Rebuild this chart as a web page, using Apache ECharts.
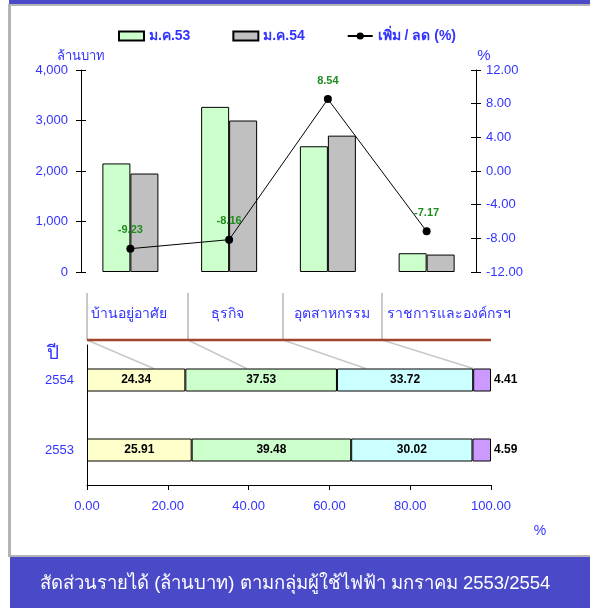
<!DOCTYPE html>
<html><head><meta charset="utf-8">
<script src="https://cdn.jsdelivr.net/npm/echarts@6/dist/echarts.min.js"></script>
<style>html,body{margin:0;padding:0;background:#fff}#c{width:590px;height:608px}</style>
</head><body><div id="c"></div>
<script>
// ---- data ----
const groups = ['บ้านอยู่อาศัย', 'ธุรกิจ', 'อุตสาหกรรม', 'ราชการและองค์กรฯ'];
const jan53 = [2150, 3270, 2490, 372];
const jan54 = [1950, 3000, 2700, 345];
const changePct = [-9.23, -8.16, 8.54, -7.17];
const years = ['2553', '2554'];
const shareResidential = [25.91, 24.34];
const shareBusiness = [39.48, 37.53];
const shareIndustry = [30.02, 33.72];
const shareGov = [4.59, 4.41];
const seriesNames = ['ม.ค.53', 'ม.ค.54', 'เพิ่ม / ลด (%)'];
const titleText = 'สัดส่วนรายได้ (ล้านบาท) ตามกลุ่มผู้ใช้ไฟฟ้า มกราคม 2553/2554';

const BLUE = '#3333FF';
const FONT = 'Liberation Sans, Arial, sans-serif';
const chart = echarts.init(document.getElementById('c'), null, {renderer: 'canvas'});

const axisLbl = {color: BLUE, fontSize: 13, fontFamily: FONT};
const stackLabel = {show: true, position: 'inside', color: '#000', fontWeight: 'bold', fontSize: 12, fontFamily: FONT,
  formatter: p => p.value.toFixed(2)};
const stackStyle = c => ({color: c, borderColor: '#000', borderWidth: 1});

const option = {
  animation: false,
  backgroundColor: '#fff',
  textStyle: {fontFamily: FONT},
  legend: {
    top: 24, left: 113, itemWidth: 25, itemHeight: 9, itemGap: 42,
    textStyle: {color: BLUE, fontWeight: 'bold', fontSize: 14, fontFamily: FONT},
    data: [{name: seriesNames[0], icon: 'rect'}, {name: seriesNames[1], icon: 'rect'}, {name: seriesNames[2]}]
  },
  grid: [
    {left: 81, right: 114, top: 70, height: 202},
    {left: 87, right: 99, top: 345, height: 140}
  ],
  xAxis: [
    {gridIndex: 0, type: 'category', data: groups, show: false},
    {gridIndex: 1, type: 'value', min: 0, max: 100, interval: 20,
      axisLine: {show: true, lineStyle: {color: '#000'}},
      axisTick: {show: true, length: 5, lineStyle: {color: '#000'}},
      splitLine: {show: false},
      axisLabel: Object.assign({margin: 15, formatter: v => v.toFixed(2)}, axisLbl)}
  ],
  yAxis: [
    {gridIndex: 0, type: 'value', min: 0, max: 4000, interval: 1000,
      name: 'ล้านบาท', nameLocation: 'end', nameGap: 7,
      nameTextStyle: {color: BLUE, fontSize: 13, fontFamily: FONT, align: 'center'},
      axisLine: {show: true, lineStyle: {color: '#000'}},
      axisTick: {show: true, length: 5, lineStyle: {color: '#000'}},
      splitLine: {show: false},
      axisLabel: Object.assign({margin: 13, formatter: v => v.toLocaleString('en-US')}, axisLbl)},
    {gridIndex: 0, type: 'value', min: -12, max: 12, interval: 4, position: 'right',
      name: '%', nameLocation: 'end', nameGap: 1,
      nameTextStyle: {color: BLUE, fontSize: 15, fontFamily: FONT, padding: [0, 0, 0, 16]},
      axisLine: {show: true, lineStyle: {color: '#000'}},
      axisTick: {show: true, length: 5, lineStyle: {color: '#000'}},
      splitLine: {show: false},
      axisLabel: Object.assign({margin: 10, formatter: v => v.toFixed(2)}, axisLbl)},
    // inner halves of the crossing ticks
    {gridIndex: 0, type: 'value', min: 0, max: 4000, interval: 1000, position: 'left',
      axisLine: {show: false}, axisTick: {show: true, inside: true, length: 5, lineStyle: {color: '#000'}},
      axisLabel: {show: false}, splitLine: {show: false}},
    {gridIndex: 0, type: 'value', min: -12, max: 12, interval: 4, position: 'right',
      axisLine: {show: false}, axisTick: {show: true, inside: true, length: 5, lineStyle: {color: '#000'}},
      axisLabel: {show: false}, splitLine: {show: false}},
    {gridIndex: 1, type: 'category', data: years,
      axisLine: {show: true, lineStyle: {color: '#000'}},
      axisTick: {show: false},
      axisLabel: Object.assign({margin: 13}, axisLbl)}
  ],
  series: [
    {name: seriesNames[0], type: 'bar', xAxisIndex: 0, yAxisIndex: 0, data: jan53,
      barWidth: 28, barGap: '0%',
      itemStyle: {color: '#CCFFCC', borderColor: '#000', borderWidth: 1}},
    {name: seriesNames[1], type: 'bar', xAxisIndex: 0, yAxisIndex: 0, data: jan54,
      barWidth: 28, barGap: '0%',
      itemStyle: {color: '#C0C0C0', borderColor: '#000', borderWidth: 1}},
    {name: seriesNames[2], type: 'line', xAxisIndex: 0, yAxisIndex: 1, data: changePct,
      symbol: 'circle', symbolSize: 8, z: 5,
      lineStyle: {color: '#000', width: 1}, itemStyle: {color: '#000'},
      label: {show: true, position: 'top', distance: 9, color: '#1E8C1E', fontWeight: 'bold', fontSize: 11,
        fontFamily: FONT, formatter: p => p.value.toFixed(2)}},
    {name: groups[0], type: 'bar', stack: 'share', xAxisIndex: 1, yAxisIndex: 4, data: shareResidential,
      barWidth: 23, itemStyle: stackStyle('#FFFFCC'), label: stackLabel},
    {name: groups[1], type: 'bar', stack: 'share', xAxisIndex: 1, yAxisIndex: 4, data: shareBusiness,
      barWidth: 23, itemStyle: stackStyle('#CCFFCC'), label: stackLabel},
    {name: groups[2], type: 'bar', stack: 'share', xAxisIndex: 1, yAxisIndex: 4, data: shareIndustry,
      barWidth: 23, itemStyle: stackStyle('#CCFFFF'), label: stackLabel},
    {name: groups[3], type: 'bar', stack: 'share', xAxisIndex: 1, yAxisIndex: 4, data: shareGov,
      barWidth: 23, itemStyle: stackStyle('#CC99FF'),
      label: Object.assign({}, stackLabel, {position: 'right', distance: 3})}
  ]
};
chart.setOption(option);

// ---- decorations: header of the share chart, tied to the bottom x scale ----
const headerBounds = [0, 25, 48.5, 73];          // header column starts (% on bottom axis)
const headerEnds = [16.5, 39.5, 69, 95.6];        // where the leader lines meet the top bar
const headerTextX = [10.4, 34.8, 60.6, 89.5];     // header label centres (% on bottom axis)
const px = v => chart.convertToPixel({xAxisIndex: 1}, v);
const yTopBar = chart.convertToPixel({yAxisIndex: 4}, years[1]) - 11.5;
const headerLineY = 340, headerTopY = 293;
const g = [];
headerBounds.forEach((b, i) => {
  g.push({type: 'line', shape: {x1: px(b), y1: headerTopY, x2: px(b), y2: headerLineY},
    style: {stroke: '#C8C8C8', lineWidth: 2}, z: 1});
  g.push({type: 'line', shape: {x1: px(b), y1: headerLineY, x2: px(headerEnds[i]), y2: yTopBar},
    style: {stroke: '#C8C8C8', lineWidth: 1.5}, z: 1});
  g.push({type: 'text', x: px(headerTextX[i]), y: 314,
    style: {text: groups[i], fill: BLUE, font: '14px ' + FONT, align: 'center', verticalAlign: 'middle'}});
});
g.push({type: 'line', shape: {x1: px(0), y1: headerLineY, x2: px(100), y2: headerLineY},
  style: {stroke: '#A0462D', lineWidth: 2.5}, z: 2});
g.push({type: 'text', x: 53, y: 354, style: {text: 'ปี', fill: BLUE, font: '19px ' + FONT, align: 'center', verticalAlign: 'middle'}});
g.push({type: 'text', x: 540, y: 531, style: {text: '%', fill: BLUE, font: '14px ' + FONT, align: 'center', verticalAlign: 'middle'}});
// frame
g.push({type: 'rect', shape: {x: 9, y: 0, width: 581, height: 4}, style: {fill: '#4A4AC8'}});
g.push({type: 'rect', shape: {x: 9, y: 4, width: 581, height: 2}, style: {fill: '#B4B4B4'}});
g.push({type: 'rect', shape: {x: 8, y: 4, width: 3, height: 553}, style: {fill: '#B4B4B4'}});
g.push({type: 'rect', shape: {x: 10, y: 555, width: 580, height: 2}, style: {fill: '#B4B4B4'}});
g.push({type: 'rect', shape: {x: 10, y: 557, width: 580, height: 51}, style: {fill: '#4A4AC8'}});
g.push({type: 'text', x: 40, y: 584, style: {text: titleText, fill: '#fff', font: '18.5px ' + FONT, verticalAlign: 'middle'}});
chart.setOption({graphic: g});
</script></body></html>
